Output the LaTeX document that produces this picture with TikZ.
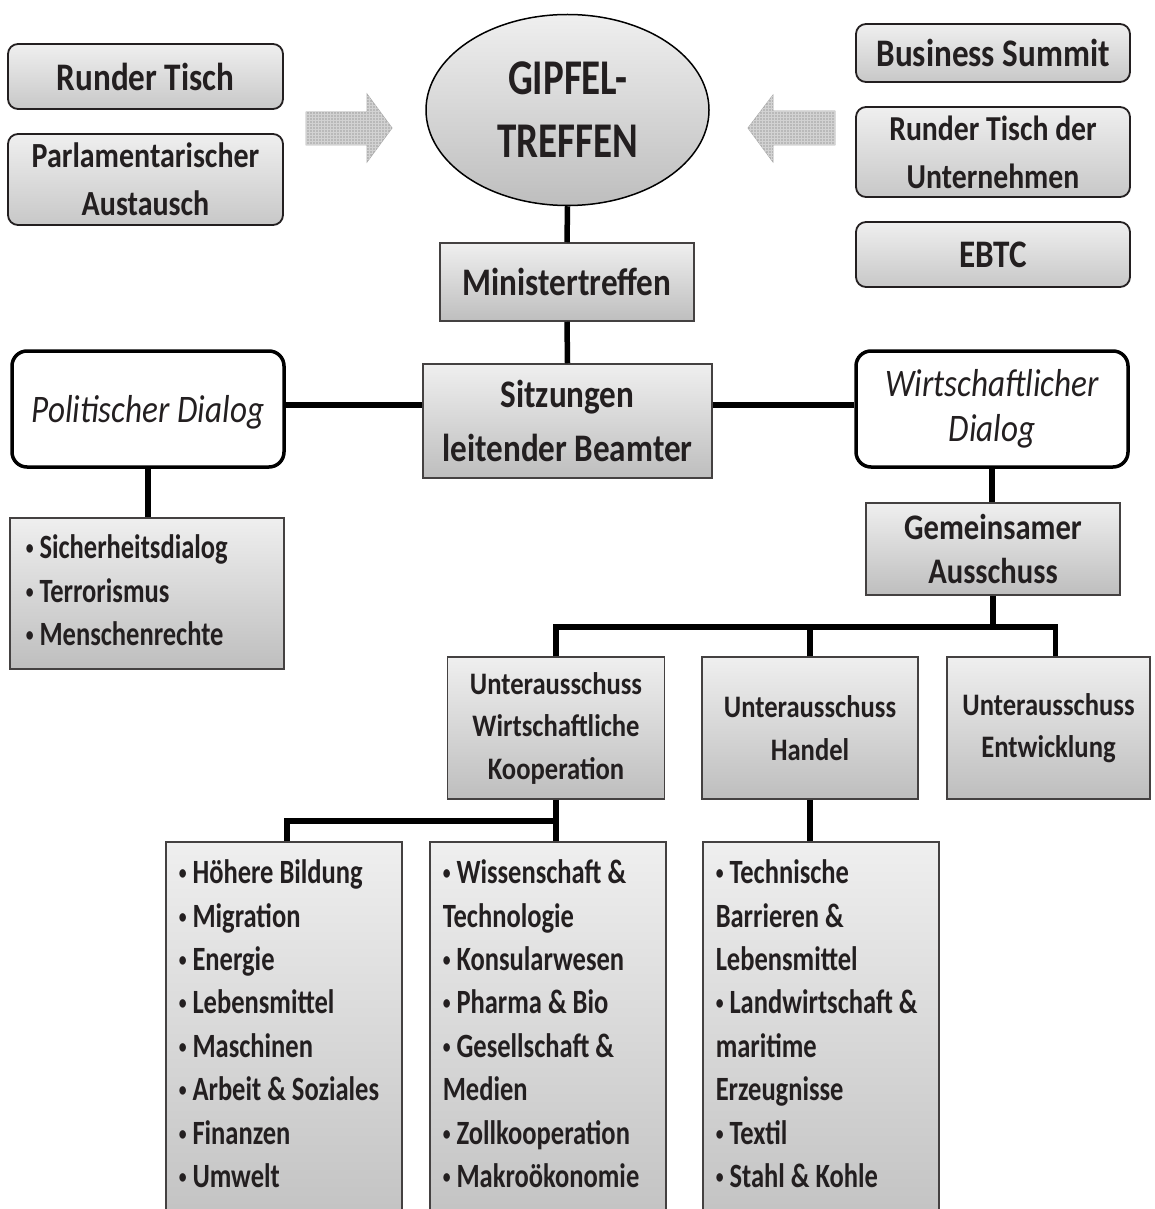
\documentclass[tikz,border=0pt]{standalone}
\usepackage{fontspec}
\setmainfont{Carlito}[FakeStretch=0.85]
\newfontfamily\narrowfont{Carlito}[FakeStretch=0.78]
\usetikzlibrary{shapes.geometric,patterns}
\definecolor{ink}{HTML}{231F20}
\definecolor{boxtop}{HTML}{EFEFEF}
\definecolor{boxbot}{HTML}{BEBEBE}
\newcommand\bul{\raisebox{4pt}{\fontsize{20}{20}\selectfont•}\kern6pt}
\newcommand\nobreaks{\hyphenpenalty=10000\relax\exhyphenpenalty=10000\relax}
\begin{document}
\begin{tikzpicture}[x=1pt, y=-1pt,
    every node/.style={text=ink, inner sep=0pt, align=center, font=\bfseries\fontsize{39}{48}\selectfont},
    topbox/.style={draw=ink, line width=1.8pt, rounded corners=10pt, top color=boxtop, bottom color=boxbot!85!white},
    plainbox/.style={draw=ink!85, line width=1.5pt, top color=boxtop, bottom color=boxbot},
    dialog/.style={draw=black, line width=3.5pt, rounded corners=15pt, fill=white, minimum width=272, minimum height=116, font=\itshape\fontsize{39}{45}\selectfont},
    subbox/.style={plainbox, minimum height=142, font=\bfseries\fontsize{31.3}{42.5}\selectfont},
    listfont/.style={font=\narrowfont\bfseries\fontsize{34}{43.4}\selectfont\nobreaks},
    listbox/.style={plainbox, anchor=north west, align=flush left, inner xsep=13pt, inner ysep=11.6pt, text width=210pt, listfont},
    link/.style={line width=5.5pt, black},
    blockarrow/.style={fill=gray!55, draw=gray!65, line width=0.8pt, postaction={pattern=grid, pattern color=gray!35}}]
    \useasboundingbox (0,0) rectangle (1154,1209);
    \clip (0,0) rectangle (1154,1209);

    % top row
    \node[topbox, minimum width=275, minimum height=65] (rt) at (145.5,76.5) {Runder Tisch};
    \node[topbox, minimum width=275, minimum height=91, font=\bfseries\fontsize{35.3}{48}\selectfont] (pa) at (145.5,179.5) {Parlamentarischer\\Austausch};
    \node[topbox, minimum width=274, minimum height=58] (bs) at (993,53) {Business Summit};
    \node[topbox, minimum width=274, minimum height=90, font=\bfseries\fontsize{35}{48}\selectfont] (rtu) at (993,152) {Runder Tisch der\\Unternehmen};
    \node[topbox, minimum width=274, minimum height=65] (ebtc) at (993,254.5) {EBTC};
    \node[ellipse, draw=black, line width=1.5pt, top color=boxtop, bottom color=boxbot,
          minimum width=283, minimum height=191, font=\narrowfont\bfseries\fontsize{50}{63}\selectfont] (gipfel) at (567.5,110) {GIPFEL-\\TREFFEN};
    \path[blockarrow] (306,112) -- (367,112) -- (367,94) -- (392,128) -- (367,162) -- (367,145) -- (306,145) -- cycle;
    \path[blockarrow] (835,111) -- (773,111) -- (773,95) -- (748,128) -- (773,162) -- (773,145) -- (835,145) -- cycle;

    % middle column
    \node[plainbox, minimum width=254, minimum height=78] (mt) at (567,282) {Ministertreffen};
    \node[plainbox, minimum width=289, minimum height=114, font=\bfseries\fontsize{39}{54}\selectfont] (slb) at (567.5,421) {Sitzungen\\leitender Beamter};
    \node[dialog, text depth=0pt] (pd) at (148,409) {Politischer Dialog};
    \node[dialog] (wd) at (992,409) {Wirtschaftlicher\\Dialog};
    \node[plainbox, anchor=north west, align=flush left, inner xsep=16pt, inner ysep=10.6pt, text width=242pt, listfont] (sich) at (9,517)
        {\strut\bul Sicherheitsdialog\\\bul Terrorismus\\\bul Menschenrechte\strut};
    \node[plainbox, minimum width=254, minimum height=92, font=\bfseries\fontsize{36}{44}\selectfont] (ga) at (993,549) {Gemeinsamer\\Ausschuss};

    % sub-committees
    \node[subbox, minimum width=217] (uwk) at (556,728) {Unterausschuss\\Wirtschaftliche\\Kooperation};
    \node[subbox, minimum width=216] (uh) at (810,728) {Unterausschuss\\Handel};
    \node[subbox, minimum width=203] (ue) at (1048.5,728) {Unterausschuss\\Entwicklung};

    % topic lists
    \node[listbox] (lista) at (165,841) {\strut\bul Höhere~Bildung\\\bul Migration\\\bul Energie\\\bul Lebensmittel\\\bul Maschinen\\\bul Arbeit~\&~Soziales\\\bul Finanzen\\\bul Umwelt\rule[-60pt]{0pt}{60pt}};
    \node[listbox] (listb) at (429,841) {\strut\bul Wissenschaft~\&\\Technologie\\\bul Konsularwesen\\\bul Pharma~\&~Bio\\\bul Gesellschaft~\&\\Medien\\\bul Zollkooperation\\\bul Makroökonomie\rule[-60pt]{0pt}{60pt}};
    \node[listbox] (listc) at (702,841) {\strut\bul Technische\\Barrieren~\&\\Lebensmittel\\\bul Landwirtschaft~\&\\maritime\\Erzeugnisse\\\bul Textil\\\bul Stahl~\&~Kohle\rule[-60pt]{0pt}{60pt}};

    % connectors
    \coordinate (dialogline) at (0,405);
    \coordinate (bus) at (0,627);
    \coordinate (subbus) at (0,821);
    \draw[link] (gipfel.south) -- (mt.north);
    \draw[link] (mt.south) -- (slb.north);
    \draw[link] (pd.east |- dialogline) -- (slb.west |- dialogline);
    \draw[link] (slb.east |- dialogline) -- (wd.west |- dialogline);
    \draw[link] (pd.south) -- (pd.south |- sich.north);
    \draw[link] (wd.south) -- (wd.south |- ga.north);
    \draw[link] (ga.south) -- (ga.south |- bus);
    \draw[link] (uwk.north) -- (uwk.north |- bus) -- ([xshift=7]ue.north |- bus) -- ([xshift=7]ue.north);
    \draw[link] (uh.north) -- (uh.north |- bus);
    \draw[link] (uwk.south) -- (uwk.south |- listb.north);
    \draw[link] (uwk.south |- subbus) -- ([xshift=3]lista.north |- subbus) -- ([xshift=3]lista.north);
    \draw[link] (uh.south) -- (uh.south |- listc.north);
\end{tikzpicture}
\end{document}
